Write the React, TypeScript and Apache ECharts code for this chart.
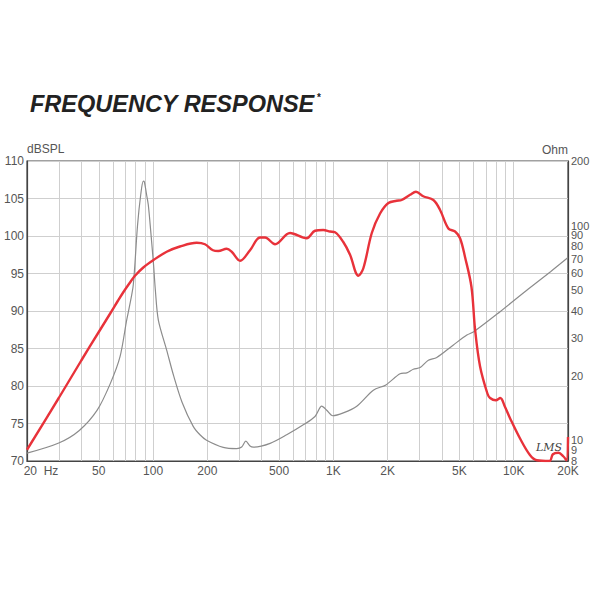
import React, { useEffect, useRef } from "react";
import * as echarts from "echarts";

// Frequency axis
const xLabelValues = [20, 50, 100, 200, 500, 1000, 2000, 5000, 10000, 20000];
const xGridValues = [
  20, 30, 40, 50, 60, 70, 80, 90, 100, 200, 300, 400, 500, 600, 700, 800, 900,
  1000, 2000, 3000, 4000, 5000, 6000, 7000, 8000, 9000, 10000, 20000,
];
const ohmLabelValues = [8.0001, 9, 10, 20, 30, 40, 50, 60, 70, 80, 90, 100, 199.999];

// SPL curve (Hz, dB)
const splFreq = [
  20, 30, 40, 50, 59, 64, 68.4, 74, 79.4, 88.3, 100.6, 119, 141, 174.6, 194,
  215, 230, 256, 273, 304, 345, 392, 418, 475, 575, 711, 791, 879, 958, 1021,
  1135, 1237, 1376, 1466, 1633, 1815, 2019, 2242, 2390, 2662, 2870, 3150, 3585,
  3900, 4341, 4730, 5040, 5370, 5830, 6107, 6508, 7146, 7397, 7960, 8420, 8953,
  9540, 10840, 12300, 13420, 15800, 16490, 17700, 18880, 19600, 20000,
];
const splValues = [
  71.5, 78.4, 83.4, 87.2, 90.0, 91.4, 92.5, 93.7, 94.7, 95.8, 96.8, 97.9, 98.6,
  99.1, 98.9, 98.1, 98.0, 98.3, 97.9, 96.7, 98.1, 99.8, 99.8, 98.9, 100.4, 99.7,
  100.7, 100.8, 100.6, 100.5, 99.2, 97.5, 94.7, 95.7, 100.4, 103.0, 104.4,
  104.7, 104.8, 105.5, 105.9, 105.3, 104.8, 103.5, 101.0, 100.6, 99.7, 97.2,
  93.2, 87.5, 82.6, 79.0, 78.4, 78.1, 78.4, 77.2, 75.7, 73.0, 70.8, 70.1, 70.0,
  70.9, 71.1, 70.6, 70.1, 73.2,
];

// Impedance curve (Hz, Ohm)
const impFreq = [
  20, 30, 39, 49, 58, 65.6, 71.4, 74, 77.7, 82, 85.5, 88.3, 89.5, 92, 94.1, 97,
  100.6, 103, 107, 119, 130, 145, 167, 182, 198, 245, 291, 310, 327, 345, 360,
  446, 551, 681, 791, 862, 918, 992, 1135, 1348, 1666, 1955, 2343, 2553, 2775,
  3027, 3362, 3742, 4630, 5500, 6000, 8400, 12000, 16000, 20000,
];
const impValues = [
  8.7, 9.7, 11.1, 13.8, 18.4, 24.5, 36.3, 42, 53, 100, 140, 161, 160, 140, 125,
  95, 66, 50, 36.3, 26.3, 20, 15, 11.6, 10.6, 10.0, 9.26, 9.14, 9.3, 9.9, 9.4,
  9.28, 9.67, 10.6, 11.8, 12.9, 14.4, 13.8, 13.0, 13.4, 14.4, 17.1, 18.1, 20.4,
  20.6, 21.4, 21.8, 23.6, 24.3, 27.8, 30.9, 32, 39.7, 50.5, 61, 71,
];

const FONT = "Liberation Sans, Arial, sans-serif";

export default function App() {
  const ref = useRef<HTMLDivElement>(null);
  useEffect(() => {
    if (!ref.current) return;
    const chart = echarts.init(ref.current, undefined, { renderer: "svg" });
    const fmtX = (v: number) => {
      const r = Math.round(v);
      if (r === 20) return "{h|20  Hz}";
      if (r >= 1000) return r / 1000 + "K";
      return String(r);
    };
    chart.setOption({
      animation: false,
      backgroundColor: "#ffffff",
      grid: {
        left: 27,
        right: 32,
        top: 161,
        bottom: 139,
        show: true,
        borderColor: "#444",
        borderWidth: 1.2,
        containLabel: false,
      },
      graphic: [
        {
          type: "text",
          left: 30,
          top: 92,
          style: {
            text: "FREQUENCY RESPONSE",
            fontSize: 23.5,
            fontWeight: "bold",
            fontStyle: "italic",
            fontFamily: FONT,
            fill: "#222",
          },
        },
        {
          type: "text",
          left: 317,
          top: 92,
          style: {
            text: "*",
            fontSize: 10,
            fontWeight: "bold",
            fontFamily: FONT,
            fill: "#222",
          },
        },
        {
          type: "text",
          left: 536,
          top: 442,
          style: {
            text: "LMS",
            fontSize: 11,
            fontStyle: "italic",
            fontFamily: "DejaVu Serif, serif",
            fill: "#444",
          },
        },
      ],
      xAxis: {
        type: "log",
        logBase: 10,
        min: 20,
        max: 20000,
        axisLine: { show: true, lineStyle: { color: "#444", width: 1.2 } },
        axisTick: { show: false, customValues: xGridValues },
        axisLabel: {
          customValues: xLabelValues,
          formatter: fmtX,
          color: "#555",
          fontSize: 12,
          fontFamily: FONT,
          margin: 4,
          rich: {
            h: {
              color: "#555",
              fontSize: 12,
              fontFamily: FONT,
              padding: [0, 0, 0, 28],
            },
          },
        },
        splitLine: { show: true, lineStyle: { color: "#cfcfcf", width: 1 } },
      },
      yAxis: [
        {
          type: "value",
          min: 70,
          max: 110,
          interval: 5,
          name: "dBSPL",
          nameLocation: "end",
          nameGap: 3,
          nameTextStyle: {
            align: "left",
            color: "#555",
            fontSize: 12,
            fontFamily: FONT,
          },
          axisLine: { show: true, lineStyle: { color: "#444", width: 1.2 } },
          axisTick: { show: false },
          axisLabel: {
            color: "#555",
            fontSize: 12,
            fontFamily: FONT,
            margin: 3,
          },
          splitLine: { show: true, lineStyle: { color: "#cfcfcf", width: 1 } },
        },
        {
          type: "log",
          logBase: 10,
          min: 8,
          max: 200,
          position: "right",
          name: "Ohm",
          nameLocation: "end",
          nameGap: 3,
          nameTextStyle: {
            align: "right",
            color: "#555",
            fontSize: 12,
            fontFamily: FONT,
          },
          axisLine: { show: true, lineStyle: { color: "#444", width: 1.2 } },
          axisTick: { show: false },
          axisLabel: {
            customValues: ohmLabelValues,
            formatter: (v: number) => String(Math.round(v)),
            color: "#555",
            fontSize: 11,
            fontFamily: FONT,
            margin: 3,
          },
          splitLine: { show: false },
        },
      ],
      series: [
        {
          name: "Impedance",
          type: "line",
          yAxisIndex: 1,
          data: impFreq.map((f, i) => [f, impValues[i]]),
          showSymbol: false,
          smooth: 0.3,
          lineStyle: { color: "#8c8c8c", width: 1.2 },
          z: 3,
        },
        {
          name: "SPL",
          type: "line",
          yAxisIndex: 0,
          data: splFreq.map((f, i) => [f, splValues[i]]),
          showSymbol: false,
          smooth: 0.35,
          lineStyle: { color: "#e8323a", width: 2.4 },
          z: 4,
        },
      ],
    });
    return () => chart.dispose();
  }, []);
  return (
    <div
      ref={ref}
      style={{ position: "absolute", left: 0, top: 0, width: 600, height: 600 }}
    />
  );
}
